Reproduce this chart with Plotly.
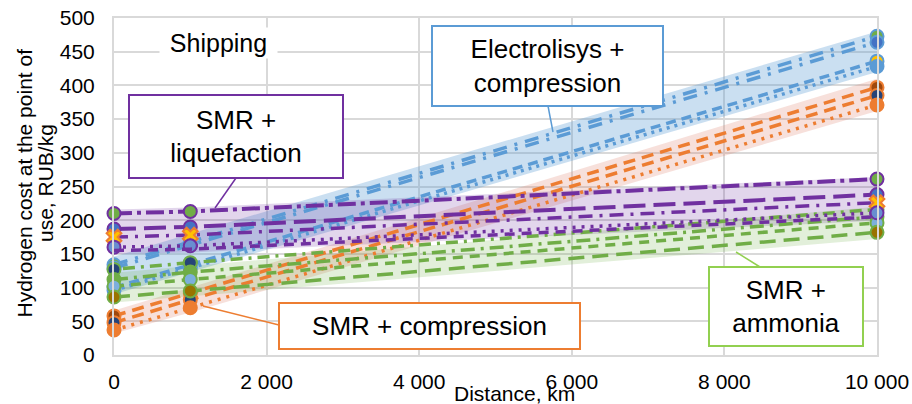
import plotly.graph_objects as go

# ---------------- data ----------------
distance_km = [0, 1000, 10000]

# Electrolysis + compression (blue)
el_dashdot_a = [134, 168, 473]
el_dashdot_b = [129, 163, 464]
el_dash = [100, 134, 436]
el_dot = [96, 129, 428]
el_band_lo = [90, 123, 420]
el_band_hi = [146, 180, 480]

# SMR + compression (orange)
smc_dash_a = [58, 92, 397]
smc_dash_b = [48, 82, 385]
smc_dot = [37, 70, 371]
smc_band_lo = [32, 63, 362]
smc_band_hi = [66, 100, 410]

# SMR + liquefaction (purple)
liq_dashdot = [210, 213, 261]
liq_longdash = [187, 190, 238]
liq_dashdot2 = [175, 178, 226]
liq_dot = [160, 162, 211]
liq_dash = [155, 157, 205]
liq_band_lo = [150, 152, 199]
liq_band_hi = [216, 219, 264]

# SMR + ammonia (green)
amm_dot = [127, 137, 216]
amm_dashdot = [112, 123, 205]
amm_dash = [102, 112, 196]
amm_longdash = [86, 95, 182]
amm_band_lo = [78, 87, 172]
amm_band_hi = [122, 132, 220]

x_tickvals = [0, 2000, 4000, 6000, 8000, 10000]
x_ticktext = ["0", "2 000", "4 000", "6 000", "8 000", "10 000"]
y_tickvals = [0, 50, 100, 150, 200, 250, 300, 350, 400, 450, 500]

# ---------------- styling ----------------
BLUE = "#5B9BD5"
ORANGE = "#ED7D31"
PURPLE = "#7030A0"
GREEN = "#70AD47"
FONT = "Liberation Sans"

W, H = 912, 404
L, R, T, B = 114, 877, 18, 355  # plot area in pixels


def pxx(v):
    return (v - L) / (R - L)


def pxy(v):
    return (B - v) / (B - T)


fig = go.Figure()


def add_band(lo, hi, color):
    fig.add_trace(go.Scatter(x=distance_km, y=lo, mode="lines",
                             line=dict(width=0, color=color),
                             showlegend=False, hoverinfo="skip"))
    fig.add_trace(go.Scatter(x=distance_km, y=hi, mode="lines",
                             line=dict(width=0, color=color), fill="tonexty",
                             fillcolor=color, showlegend=False, hoverinfo="skip"))


add_band(el_band_lo, el_band_hi, "rgba(91,155,213,0.32)")
add_band(smc_band_lo, smc_band_hi, "rgba(222,130,110,0.25)")
add_band(liq_band_lo, liq_band_hi, "rgba(112,48,160,0.20)")
add_band(amm_band_lo, amm_band_hi, "rgba(112,173,71,0.20)")


def add_line(y, color, dash, mfill=None, mline=None, symbol="circle", width=3.5):
    mode = "lines+markers" if mfill else "lines"
    fig.add_trace(go.Scatter(
        x=distance_km, y=y, mode=mode, cliponaxis=False,
        line=dict(color=color, width=width, dash=dash),
        marker=dict(size=13, color=mfill, symbol=symbol,
                    line=dict(color=mline or color, width=2)),
        showlegend=False))


LDD = "14px,8px,3px,8px"
# blue lines
add_line(el_dashdot_a, BLUE, LDD, "#70AD47", BLUE)
add_line(el_dashdot_b, BLUE, LDD, "#4472C4", BLUE)
add_line(el_dash, BLUE, "10px,6px", "#FFC000", BLUE)
add_line(el_dot, BLUE, "3px,5px", BLUE, BLUE)
# orange lines
add_line(smc_dash_a, ORANGE, "12px,7px", "#9E480E", ORANGE)
add_line(smc_dash_b, ORANGE, "12px,7px", "#264478", ORANGE)
add_line(smc_dot, ORANGE, "3px,6px", ORANGE, ORANGE)
# green lines
add_line(amm_dot, GREEN, "3px,6px,12px,6px", "#264478", GREEN)
add_line(amm_dashdot, GREEN, "14px,6px,3px,6px", GREEN, GREEN)
add_line(amm_dash, GREEN, "10px,7px", "#7CAFDD", GREEN)
add_line(amm_longdash, GREEN, "16px,8px", "#997300", GREEN)
# purple lines
add_line(liq_dashdot, PURPLE, "18px,5px,4px,5px", "#70AD47", PURPLE, width=4)
add_line(liq_longdash, PURPLE, "22px,8px", "#4472C4", PURPLE, width=4)
add_line(liq_dashdot2, PURPLE, "14px,7px,3px,7px", "#FFC000", ORANGE, symbol="x")
add_line(liq_dot, PURPLE, "3px,6px", "#698ED0", PURPLE)
add_line(liq_dash, PURPLE, "10px,7px")

axis_common = dict(
    showgrid=True, gridcolor="#D9D9D9", gridwidth=2,
    zeroline=False, showline=True, linecolor="#D9D9D9", linewidth=2,
    mirror=True, ticks="", automargin=False,
    tickfont=dict(family=FONT, size=21, color="#000000"),
)

fig.update_layout(
    width=W, height=H, autosize=False,
    margin=dict(l=L, r=W - R, t=T, b=H - B, pad=0, autoexpand=False),
    paper_bgcolor="white", plot_bgcolor="white",
    showlegend=False,
    xaxis=dict(range=[0, 10000], tickvals=x_tickvals, ticktext=x_ticktext,
               ticklabelstandoff=7, **axis_common),
    yaxis=dict(range=[0, 500], tickvals=y_tickvals,
               ticklabelstandoff=13, **axis_common),
)

annotations = []
# axis titles
annotations.append(dict(text="Distance, km", x=pxx(514), y=pxy(394), xref="paper", yref="paper",
                        showarrow=False, font=dict(family=FONT, size=21, color="#000"),
                        xanchor="center", yanchor="middle"))
annotations.append(dict(text="Hydrogen cost at the point of", x=pxx(23.5), y=pxy(183),
                        xref="paper", yref="paper", showarrow=False, textangle=-90,
                        font=dict(family=FONT, size=21, color="#000"),
                        xanchor="center", yanchor="middle"))
annotations.append(dict(text="use, RUB/kg", x=pxx(45), y=pxy(183),
                        xref="paper", yref="paper", showarrow=False, textangle=-90,
                        font=dict(family=FONT, size=21, color="#000"),
                        xanchor="center", yanchor="middle"))
# Shipping label
annotations.append(dict(text="Shipping", x=pxx(218), y=pxy(43), xref="paper", yref="paper",
                        showarrow=False, font=dict(family=FONT, size=25, color="#000"),
                        bgcolor="white", width=117, height=30, borderpad=0,
                        xanchor="center", yanchor="middle"))

boxes = [
    ("SMR +<br>liquefaction", PURPLE, (129, 95, 343, 178), (236, 178, 215, 208)),
    ("Electrolisys +<br>compression", BLUE, (432, 26, 663, 106), (548, 106, 553, 132)),
    ("SMR + compression", ORANGE, (279, 303, 580, 349), (279, 325, 203, 306)),
    ("SMR +<br>ammonia", "#92D050", (709, 267, 863, 346), (760, 267, 736, 252)),
]
shapes = []
for text, col, (x0, y0, x1, y1), (lx0, ly0, lx1, ly1) in boxes:
    shapes.append(dict(type="line", xref="paper", yref="paper",
                       x0=pxx(lx0), y0=pxy(ly0), x1=pxx(lx1), y1=pxy(ly1),
                       line=dict(color=col, width=1.5)))
    annotations.append(dict(text=text, x=pxx((x0 + x1) / 2), y=pxy((y0 + y1) / 2),
                            xref="paper", yref="paper", showarrow=False,
                            font=dict(family=FONT, size=26, color="#000"),
                            bgcolor="white", bordercolor=col, borderwidth=2, borderpad=0,
                            width=x1 - x0 - 2, height=y1 - y0 - 2,
                            xanchor="center", yanchor="middle", align="center"))

fig.update_layout(annotations=annotations, shapes=shapes)

fig.write_html("out.html")
